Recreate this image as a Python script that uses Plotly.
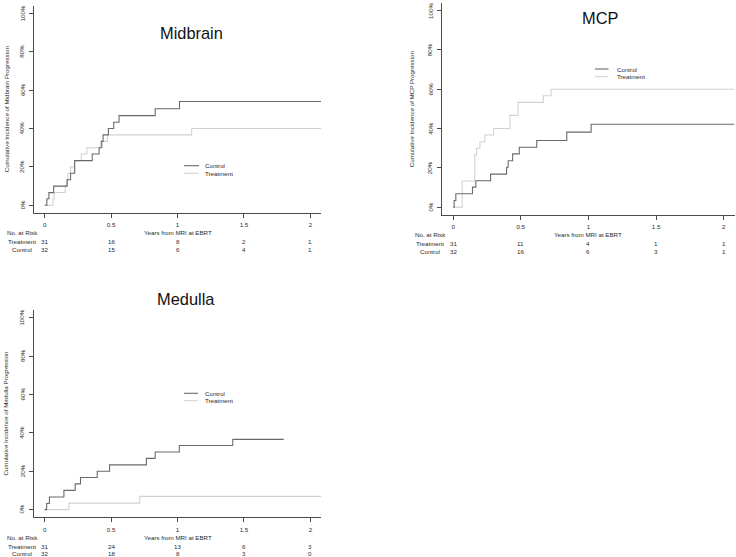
import plotly.graph_objects as go

W, H = 736, 557

# ---------------- data ----------------
panel_titles = ["Midbrain", "MCP", "Medulla"]
ytitles = ["Cumulative Incidence of Midbrain Progression",
           "Cumulative Incidence of MCP Progression",
           "Cumulative Incidence of Medulla Progression"]
series_names = ["Control", "Treatment"]

x_ticks = [0, 0.5, 1, 1.5, 2]
x_ticklabels = ["0", "0.5", "1", "1.5", "2"]
y_ticks = [0, 0.2, 0.4, 0.6, 0.8, 1.0]
y_ticklabels = ["0%", "20%", "40%", "60%", "80%", "100%"]

# Midbrain
mid_ctrl_t = [0, 0.017, 0.032, 0.068, 0.17, 0.195, 0.226, 0.358, 0.41, 0.426, 0.44, 0.48, 0.52, 0.56, 0.832, 1.015, 2.08]
mid_ctrl_v = [0, 3.4, 6.6, 10.0, 13.3, 16.7, 23.3, 26.7, 30.0, 33.3, 36.7, 40.0, 43.3, 46.7, 50.3, 54.1, 54.1]
mid_trt_t = [0, 0.062, 0.072, 0.155, 0.165, 0.175, 0.195, 0.226, 0.276, 0.318, 0.435, 0.472, 1.107, 2.08]
mid_trt_v = [0, 3.3, 6.7, 10.0, 13.3, 16.7, 20.0, 23.3, 26.7, 30.0, 33.3, 36.7, 40.0, 40.0]

# MCP
mcp_ctrl_t = [0, 0.008, 0.02, 0.143, 0.168, 0.277, 0.395, 0.407, 0.44, 0.489, 0.618, 0.84, 1.02, 2.08]
mcp_ctrl_v = [0, 3.4, 6.8, 10.2, 13.4, 16.8, 20.3, 23.6, 27.1, 30.5, 33.9, 38.2, 42.2, 42.2]
mcp_trt_t = [0, 0.067, 0.16, 0.173, 0.198, 0.235, 0.30, 0.42, 0.48, 0.667, 0.724, 2.08]
mcp_trt_v = [0, 13.3, 26.7, 30.0, 33.3, 36.7, 40.0, 46.7, 53.3, 56.7, 60.0, 60.0]

# Medulla
med_ctrl_t = [0, 0.015, 0.036, 0.145, 0.23, 0.27, 0.396, 0.489, 0.766, 0.832, 1.014, 1.416, 1.80]
med_ctrl_v = [0, 3.2, 6.6, 10.0, 13.4, 16.7, 20.0, 23.3, 26.7, 30.0, 33.4, 36.6, 36.6]
med_trt_t = [0, 0.183, 0.716, 2.08]
med_trt_v = [0, 3.4, 6.9, 6.9]

# numbers at risk
risk_times = [0, 0.5, 1, 1.5, 2]
mid_risk_trt = [31, 16, 8, 2, 1]
mid_risk_ctrl = [32, 15, 6, 4, 1]
mcp_risk_trt = [31, 11, 4, 1, 1]
mcp_risk_ctrl = [32, 16, 6, 3, 1]
med_risk_trt = [31, 24, 13, 6, 3]
med_risk_ctrl = [32, 18, 8, 3, 0]

curves = [
    (mid_ctrl_t, mid_ctrl_v, mid_trt_t, mid_trt_v),
    (mcp_ctrl_t, mcp_ctrl_v, mcp_trt_t, mcp_trt_v),
    (med_ctrl_t, med_ctrl_v, med_trt_t, med_trt_v),
]
risks = [
    (mid_risk_trt, mid_risk_ctrl),
    (mcp_risk_trt, mcp_risk_ctrl),
    (med_risk_trt, med_risk_ctrl),
]

# ---------------- layout geometry (pixels) ----------------
geom = [
    dict(xl=34.0, xr=321.0, yb=213.0, ppu=192.0,
         title=(191.5, 32.5), leg=(184, 199, 203, 165.7, 173.3), ytx=6.0),
    dict(xl=442.3, xr=734.5, yb=215.0, ppu=196.5,
         title=(599.5, 18.0), leg=(595, 608.5, 615, 69.0, 76.7), ytx=412.3),
    dict(xl=34.0, xr=321.0, yb=517.3, ppu=192.0,
         title=(186.5, 298.5), leg=(184, 198, 203, 393.3, 400.7), ytx=6.0),
]

FONT = "Liberation Sans, Arial, sans-serif"
TXT = "#2a2a2a"
AX = "#4a4a4a"
CTRL_COL = "#6a6a6a"
TRT_COL = "#d2d2d2"
SMALL = 6.2

def fx(px):
    return px / W

def fy(py):
    return 1 - py / H

fig = go.Figure()
annotations = []
shapes = []
layout = dict(width=W, height=H, margin=dict(l=0, r=0, t=0, b=0),
              paper_bgcolor="white", plot_bgcolor="white", showlegend=False,
              font=dict(family=FONT, color=TXT, size=SMALL))

for i, g in enumerate(geom):
    k = "" if i == 0 else str(i + 1)
    xa, ya = "x" + k, "y" + k
    ytop = g["yb"] - 1.08 * g["ppu"]
    layout["xaxis" + k] = dict(
        domain=[fx(g["xl"]), fx(g["xr"])], range=[-0.08, 2.08], anchor=ya,
        showline=True, linecolor=AX, linewidth=1, ticks="outside", ticklen=4,
        tickcolor=AX, tickwidth=1, showgrid=False, zeroline=False,
        tickvals=x_ticks, ticktext=x_ticklabels,
        tickfont=dict(size=SMALL, family=FONT, color=TXT), ticklabelstandoff=2)
    layout["yaxis" + k] = dict(
        domain=[fy(g["yb"]), fy(ytop)], range=[-0.04, 1.04], anchor=xa,
        showline=True, linecolor=AX, linewidth=1, ticks="outside", ticklen=4,
        tickcolor=AX, tickwidth=1, showgrid=False, zeroline=False,
        tickvals=y_ticks, showticklabels=False)

    # rotated y tick labels, placed on the axis' own scale
    for v, lab in zip(y_ticks, y_ticklabels):
        annotations.append(dict(text=lab, x=fx(g["xl"] - 12), y=v, xref="paper", yref=ya,
                                textangle=-90, xanchor="center", yanchor="middle",
                                showarrow=False, font=dict(size=SMALL, family=FONT, color=TXT)))

    ct, cv, tt, tv = curves[i]
    fig.add_trace(go.Scatter(x=tt, y=[v / 100 for v in tv], mode="lines",
                             line=dict(color=TRT_COL, width=1.1, shape="hv"),
                             name=series_names[1], xaxis=xa, yaxis=ya))
    fig.add_trace(go.Scatter(x=ct, y=[v / 100 for v in cv], mode="lines",
                             line=dict(color=CTRL_COL, width=1.1, shape="hv"),
                             name=series_names[0], xaxis=xa, yaxis=ya))

    tx, ty = g["title"]
    annotations.append(dict(text=panel_titles[i], x=fx(tx), y=fy(ty), xref="paper", yref="paper",
                            xanchor="center", yanchor="middle", showarrow=False,
                            font=dict(size=16.4, family=FONT, color="#111")))
    annotations.append(dict(text=ytitles[i], x=fx(g["ytx"]), y=fy((g["yb"] + ytop) / 2),
                            xref="paper", yref="paper", textangle=-90,
                            xanchor="center", yanchor="middle", showarrow=False,
                            font=dict(size=SMALL, family=FONT, color=TXT)))
    yb = g["yb"]
    annotations.append(dict(text="Years from MRI at EBRT", x=1, y=fy(yb + 19.8), xref=xa, yref="paper",
                            xanchor="center", yanchor="middle", showarrow=False,
                            font=dict(size=SMALL, family=FONT, color=TXT)))
    lab_x = g["xl"] - 12
    annotations.append(dict(text="No. at Risk", x=fx(lab_x), y=fy(yb + 19.8), xref="paper", yref="paper",
                            xanchor="center", yanchor="middle", showarrow=False,
                            font=dict(size=SMALL, family=FONT, color=TXT)))
    rt, rc = risks[i]
    for lab, vals, off in (("Treatment", rt, 28.7), ("Control", rc, 36.5)):
        annotations.append(dict(text=lab, x=fx(lab_x), y=fy(yb + off), xref="paper", yref="paper",
                                xanchor="center", yanchor="middle", showarrow=False,
                                font=dict(size=SMALL, family=FONT, color=TXT)))
        for t, n in zip(risk_times, vals):
            annotations.append(dict(text=str(n), x=t, y=fy(yb + off), xref=xa, yref="paper",
                                    xanchor="center", yanchor="middle", showarrow=False,
                                    font=dict(size=SMALL, family=FONT, color=TXT)))
    lx0, lx1, ltx, ly1, ly2 = g["leg"]
    for name, col, ly in ((series_names[0], CTRL_COL, ly1), (series_names[1], TRT_COL, ly2)):
        shapes.append(dict(type="line", xref="paper", yref="paper", x0=fx(lx0), x1=fx(lx1),
                           y0=fy(ly), y1=fy(ly), line=dict(color=col, width=1.1)))
        annotations.append(dict(text=name, x=fx(ltx), y=fy(ly), xref="paper", yref="paper",
                                xanchor="left", yanchor="middle", showarrow=False,
                                font=dict(size=SMALL, family=FONT, color=TXT)))

layout["annotations"] = annotations
layout["shapes"] = shapes
fig.update_layout(**layout)
fig.write_html("out.html")
